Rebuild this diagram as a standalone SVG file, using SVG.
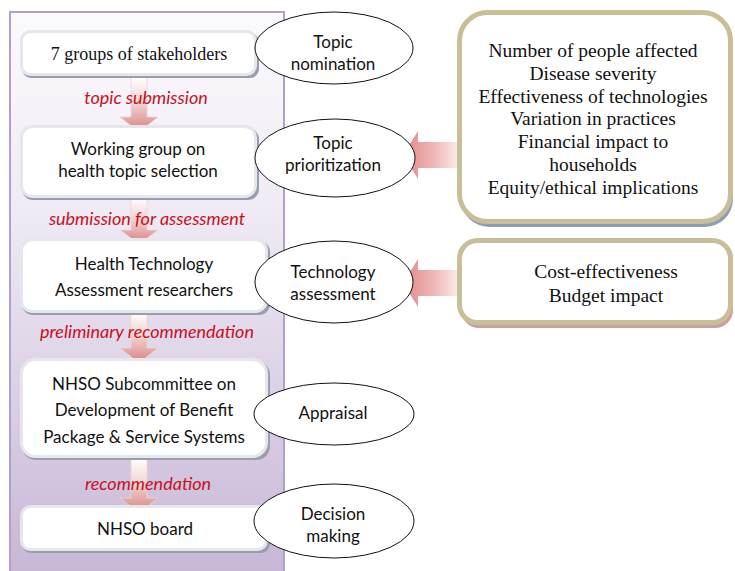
<svg xmlns="http://www.w3.org/2000/svg" width="735" height="571" viewBox="0 0 735 571">
<defs>
<linearGradient id="panelG" x1="0" y1="0" x2="0" y2="1">
<stop offset="0" stop-color="#fbfafd"/>
<stop offset="0.35" stop-color="#efeaf4"/>
<stop offset="1" stop-color="#c6b6d6"/>
</linearGradient>
<linearGradient id="vArrow" x1="0" y1="0" x2="0" y2="1">
<stop offset="0" stop-color="#ffffff"/>
<stop offset="0.5" stop-color="#f0cfcf"/>
<stop offset="1" stop-color="#d88080"/>
</linearGradient>
<linearGradient id="hArrow" x1="0" y1="0" x2="1" y2="0">
<stop offset="0" stop-color="#e38686"/>
<stop offset="0.6" stop-color="#f0bcbc"/>
<stop offset="1" stop-color="#fbecec"/>
</linearGradient>
<style>
.box{fill:#ffffff;stroke:#e6e6ec;stroke-width:3}
.shadow{fill:#979eae}
.sans{font-family:Lato,"Liberation Sans",Arial,sans-serif;font-size:17px;fill:#111;text-anchor:middle}
.serif{font-family:"Liberation Serif","Times New Roman",serif;fill:#111;text-anchor:middle}
.lbl{font-family:Lato,"Liberation Sans",Arial,sans-serif;font-size:18px;font-style:italic;fill:#c8101e;text-anchor:middle}
.ell{fill:#ffffff;stroke:#111;stroke-width:1}
.rbox{fill:#ffffff;stroke:#c8bf98;stroke-width:5}
.varrow{fill:url(#vArrow);stroke:#efd6d6;stroke-width:0.8}
.harrow{fill:url(#hArrow)}
</style>
</defs>

<g id="panel">
<rect x="10" y="12" width="274" height="570" fill="url(#panelG)" stroke="#b2a0cb" stroke-width="2"/>
</g>

<g id="connectors">
<path class="varrow" d="M131,77 H147 V117 H158 L139,132 L120,117 H131 Z"/>
<path class="varrow" d="M131,197 H147 V230 H158 L139,244 L120,230 H131 Z"/>
<path class="varrow" d="M131,312 H147 V348 H158 L139,363 L120,348 H131 Z"/>
<path class="varrow" d="M131,458 H147 V498 H158 L139,513 L120,498 H131 Z"/>
<path class="harrow" d="M459,142 H418 V131 L403,155 L418,179 V168 H459 Z"/>
<path class="harrow" d="M459,270 H418 V259 L403,283 L418,307 V296 H459 Z"/>
</g>

<g id="labels">
<text class="lbl" x="146" y="104">topic submission</text>
<text class="lbl" x="147" y="225">submission for assessment</text>
<text class="lbl" x="147" y="338">preliminary recommendation</text>
<text class="lbl" x="148" y="490">recommendation</text>
</g>

<g id="stakeholders">
<rect class="shadow" x="22" y="33" width="237" height="45" rx="9"/>
<rect class="box" x="21.5" y="31.5" width="234" height="43" rx="9"/>
<text class="serif" x="139" y="60" font-size="18px">7 groups of stakeholders</text>
</g>

<g id="working-group">
<rect class="shadow" x="22" y="128" width="237" height="72" rx="11"/>
<rect class="box" x="21.5" y="126.5" width="234" height="70" rx="11"/>
<text class="sans" x="138" y="155">Working group on</text>
<text class="sans" x="138" y="177">health topic selection</text>
</g>

<g id="hta-researchers">
<rect class="shadow" x="22" y="241" width="248" height="74" rx="11"/>
<rect class="box" x="21.5" y="239.5" width="245" height="72" rx="11"/>
<text class="sans" x="144" y="270">Health Technology</text>
<text class="sans" x="144" y="296">Assessment researchers</text>
</g>

<g id="subcommittee">
<rect class="shadow" x="22" y="361" width="248" height="99" rx="14"/>
<rect class="box" x="21.5" y="359.5" width="245" height="97" rx="14"/>
<text class="sans" x="144" y="390">NHSO Subcommittee on</text>
<text class="sans" x="144" y="416">Development of Benefit</text>
<text class="sans" x="144" y="443">Package &amp; Service Systems</text>
</g>

<g id="nhso-board">
<rect class="shadow" x="22" y="508" width="248" height="45" rx="9"/>
<rect class="box" x="21.5" y="506.5" width="245" height="43" rx="9"/>
<text class="sans" x="145" y="535">NHSO board</text>
</g>

<g id="topic-nomination">
<ellipse class="ell" cx="334" cy="48" rx="79" ry="36"/>
<text class="sans" x="333" y="48">Topic</text>
<text class="sans" x="333" y="70">nomination</text>
</g>

<g id="topic-prioritization">
<ellipse class="ell" cx="335" cy="158" rx="80" ry="39"/>
<text class="sans" x="333" y="149">Topic</text>
<text class="sans" x="333" y="171">prioritization</text>
</g>

<g id="technology-assessment">
<ellipse class="ell" cx="334" cy="282" rx="79" ry="41"/>
<text class="sans" x="333" y="278">Technology</text>
<text class="sans" x="333" y="300">assessment</text>
</g>

<g id="appraisal">
<ellipse class="ell" cx="334" cy="414" rx="80" ry="31"/>
<text class="sans" x="333" y="419">Appraisal</text>
</g>

<g id="decision-making">
<ellipse class="ell" cx="334" cy="521" rx="80" ry="37"/>
<text class="sans" x="333" y="520">Decision</text>
<text class="sans" x="333" y="542">making</text>
</g>

<g id="prioritization-criteria">
<rect x="461" y="16" width="272" height="211" rx="28" fill="#8e9db5"/>
<rect class="rbox" x="459.5" y="12.5" width="271" height="209" rx="28"/>
<g class="serif" font-size="19.5px">
<text x="593" y="57">Number of people affected</text>
<text x="593" y="80">Disease severity</text>
<text x="593" y="103">Effectiveness of technologies</text>
<text x="593" y="125">Variation in practices</text>
<text x="593" y="148">Financial impact to</text>
<text x="593" y="171">households</text>
<text x="593" y="194">Equity/ethical implications</text>
</g>
</g>

<g id="assessment-criteria">
<rect x="461" y="244" width="272" height="84" rx="18" fill="#c8a0a0"/>
<rect class="rbox" x="459.5" y="240.5" width="271" height="82" rx="18"/>
<g class="serif" font-size="19.5px">
<text x="606" y="278">Cost-effectiveness</text>
<text x="606" y="302">Budget impact</text>
</g>
</g>
</svg>
